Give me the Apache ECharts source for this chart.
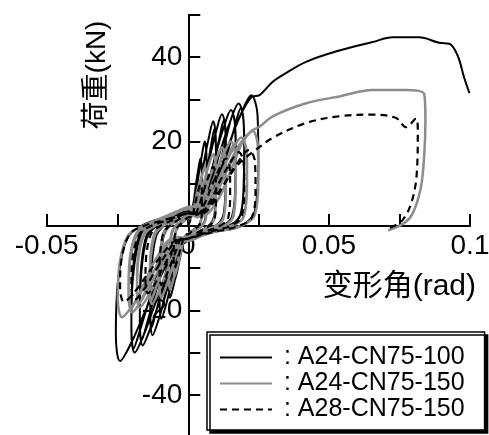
<!DOCTYPE html>
<html>
<head>
<meta charset="utf-8">
<script src="https://cdn.jsdelivr.net/npm/echarts@6/dist/echarts.min.js"></script>
<style>
  html, body { margin: 0; padding: 0; background: #fff; }
  #chart { width: 489px; height: 435px; }
</style>
</head>
<body>
<div id="chart"></div>
<script>
/* --- series names (legend) --- */
const seriesNames = ['A24-CN75-100', 'A24-CN75-150', 'A28-CN75-150'];

/* --- A24-CN75-100 : cyclic loops, then the final push to 0.1 rad --- */
const loops100 = [
  [0, 0],
  [0.001, 2.6], [0.002, 5.4], [0.0029, 9.9], [0.0037, 13.4], [0.0045, 16], [0.00495, 13.6], [0.005, 8], [0.00475, 1.9], [0.00375, 0], [0.00175, -1], [0, -2],
  [-0.001, -2.6], [-0.002, -5.2], [-0.003, -8.3], [-0.0039, -11.2], [-0.0047, -13], [-0.005, -10.4], [-0.00485, -5.2], [-0.00425, -1.3], [-0.00325, 0], [-0.00165, 1], [0, 2],
  [0.0013, 3.2], [0.0027, 6.8], [0.0039, 12.4], [0.005, 16.8], [0.006, 20], [0.0066, 17], [0.0067, 10], [0.0064, 2.4], [0.005, 0], [0.0023, -1.2], [0, -2.5],
  [-0.0013, -3.4], [-0.0027, -6.8], [-0.004, -10.9], [-0.0052, -14.6], [-0.0063, -17], [-0.0067, -13.6], [-0.0065, -6.8], [-0.0057, -1.7], [-0.0044, 0], [-0.0022, 1.2], [0, 2.5],
  [0.002, 4], [0.004, 8.4], [0.0058, 15.4], [0.0074, 20.8], [0.009, 24.8], [0.0099, 21.1], [0.01, 12.4], [0.0095, 3], [0.0075, 0], [0.0035, -1.5], [0, -3],
  [-0.002, -4.4], [-0.004, -8.8], [-0.006, -14.1], [-0.0078, -18.9], [-0.0094, -22], [-0.01, -17.6], [-0.0097, -8.8], [-0.0085, -2.2], [-0.0065, 0], [-0.0033, 1.5], [0, 3],
  [0.0025, 2.8], [0.005, 6.9], [0.0068, 13.3], [0.0082, 18.9], [0.0094, 23], [0.01, 17.3], [0.0099, 8.1], [0.0092, 1.8], [0.0072, 0], [0.0035, -1.5], [0, -3],
  [-0.0025, -3.1], [-0.005, -7.2], [-0.0068, -12.3], [-0.0084, -17.2], [-0.0096, -20.5], [-0.01, -14.8], [-0.0097, -7.2], [-0.0086, -1.6], [-0.0066, 0], [-0.0033, 1.5], [0, 3],
  [0.0027, 4.2], [0.0054, 9], [0.0078, 16.4], [0.01, 22.3], [0.0121, 26.5], [0.0134, 22.5], [0.0135, 13.3], [0.0128, 3.2], [0.0101, 0], [0.0047, -1.5], [0, -3],
  [-0.0027, -5.2], [-0.0053, -10.4], [-0.008, -16.6], [-0.0104, -22.3], [-0.0125, -25.9], [-0.0133, -20.7], [-0.0129, -10.4], [-0.0113, -2.6], [-0.0086, 0], [-0.0044, 1.5], [0, 3],
  [0.0034, 3], [0.0068, 7.5], [0.0092, 14.5], [0.0111, 20.5], [0.0127, 25], [0.0135, 18.8], [0.0134, 8.8], [0.0124, 2], [0.0097, 0], [0.0047, -1.5], [0, -3],
  [-0.0033, -3.6], [-0.0067, -8.4], [-0.009, -14.4], [-0.0112, -20.2], [-0.0128, -24], [-0.0133, -17.3], [-0.0129, -8.4], [-0.0114, -1.9], [-0.0088, 0], [-0.0044, 1.5], [0, 3],
  [0.0034, 4.4], [0.0068, 9.4], [0.0099, 17], [0.0126, 23.1], [0.0153, 27.5], [0.0168, 23.4], [0.017, 13.8], [0.0162, 3.3], [0.0128, 0], [0.006, -1.5], [0, -3],
  [-0.0034, -5.7], [-0.0068, -11.3], [-0.0102, -18.1], [-0.0133, -24.3], [-0.016, -28.3], [-0.017, -22.6], [-0.0165, -11.3], [-0.0145, -2.8], [-0.011, 0], [-0.0056, 1.5], [0, 3],
  [0.0043, 3.2], [0.0085, 8], [0.0116, 15.4], [0.0139, 21.7], [0.016, 26.5], [0.017, 19.9], [0.0168, 9.3], [0.0156, 2.1], [0.0122, 0], [0.006, -1.5], [0, -3],
  [-0.0043, -4.1], [-0.0085, -9.5], [-0.0116, -16.2], [-0.0143, -22.7], [-0.0163, -27], [-0.017, -19.4], [-0.0165, -9.5], [-0.0146, -2.2], [-0.0112, 0], [-0.0056, 1.5], [0, 3],
  [0.004, 4.6], [0.008, 9.9], [0.0116, 18], [0.0148, 24.4], [0.018, 29], [0.0198, 24.7], [0.02, 14.5], [0.019, 3.5], [0.015, 0], [0.007, -1.5], [0, -3.5],
  [-0.004, -6], [-0.008, -12], [-0.012, -19.2], [-0.0156, -25.8], [-0.0188, -30], [-0.02, -24], [-0.0194, -12], [-0.017, -3], [-0.013, 0], [-0.0066, 2], [0, 3.5],
  [0.005, 3.4], [0.01, 8.4], [0.0136, 16.2], [0.0164, 23], [0.0188, 28], [0.02, 21], [0.0198, 9.8], [0.0184, 2.2], [0.0144, 0], [0.007, -1.5], [0, -3.5],
  [-0.005, -4.4], [-0.01, -10.2], [-0.0136, -17.4], [-0.0168, -24.4], [-0.0192, -29], [-0.02, -20.9], [-0.0194, -10.2], [-0.0172, -2.3], [-0.0132, 0], [-0.0066, 2], [0, 3.5],
  [0.005, 5], [0.01, 10.5], [0.0145, 19.2], [0.0185, 26], [0.0225, 31], [0.0247, 26.4], [0.025, 15.5], [0.0238, 3.7], [0.0188, 0], [0.0088, -1.5], [0, -3.5],
  [-0.0051, -6.4], [-0.0102, -12.8], [-0.0153, -20.5], [-0.0199, -27.5], [-0.024, -32], [-0.0255, -25.6], [-0.0247, -12.8], [-0.0217, -3.2], [-0.0166, 0], [-0.0084, 2], [0, 3.5]
];
const push100 = [
  [0.005, 5], [0.01, 10.5], [0.0145, 19.2], [0.0185, 26], [0.0225, 30.5], [0.0254, 31],
  [0.0301, 34.2], [0.0337, 35.8], [0.0419, 38.9], [0.0537, 41.6], [0.0655, 43.6], [0.0726, 44.7],
  [0.082, 44.7], [0.0891, 43.4], [0.0927, 43.2], [0.0956, 40.4], [0.098, 35], [0.0998, 31.5]
];

/* --- A24-CN75-150 --- */
const loops150 = [
  [0, 0],
  [0.001, 1.8], [0.002, 3.7], [0.0029, 6.8], [0.0037, 9.2], [0.0045, 11], [0.00495, 9.4], [0.005, 5.5], [0.00475, 1.3], [0.00375, 0], [0.00175, -1], [0, -2],
  [-0.001, -2.4], [-0.002, -4.8], [-0.003, -7.7], [-0.0039, -10.3], [-0.0047, -12], [-0.005, -9.6], [-0.00485, -4.8], [-0.00425, -1.2], [-0.00325, 0], [-0.00165, 1], [0, 2],
  [0.0013, 2.2], [0.0027, 4.8], [0.0039, 8.7], [0.005, 11.8], [0.006, 14], [0.0066, 11.9], [0.0067, 7], [0.0064, 1.7], [0.005, 0], [0.0023, -1.2], [0, -2.5],
  [-0.0013, -3], [-0.0027, -6], [-0.004, -9.6], [-0.0052, -12.9], [-0.0063, -15], [-0.0067, -12], [-0.0065, -6], [-0.0057, -1.5], [-0.0044, 0], [-0.0022, 1.2], [0, 2.5],
  [0.002, 2.7], [0.004, 5.8], [0.0058, 10.5], [0.0074, 14.3], [0.009, 17], [0.0099, 14.5], [0.01, 8.5], [0.0095, 2], [0.0075, 0], [0.0035, -1.5], [0, -3],
  [-0.002, -3.4], [-0.004, -6.8], [-0.006, -10.9], [-0.0078, -14.6], [-0.0094, -17], [-0.01, -13.6], [-0.0097, -6.8], [-0.0085, -1.7], [-0.0065, 0], [-0.0033, 1.5], [0, 3],
  [0.0027, 3], [0.0054, 6.3], [0.0078, 11.5], [0.01, 15.6], [0.0121, 18.6], [0.0134, 15.8], [0.0135, 9.3], [0.0128, 2.2], [0.0101, 0], [0.0047, -1.5], [0, -3],
  [-0.0027, -3.7], [-0.0054, -7.4], [-0.0081, -11.8], [-0.0105, -15.9], [-0.0127, -18.5], [-0.0135, -14.8], [-0.0131, -7.4], [-0.0115, -1.9], [-0.0088, 0], [-0.0045, 1.5], [0, 3],
  [0.0034, 2.1], [0.0068, 5.3], [0.0092, 10.2], [0.0111, 14.4], [0.0127, 17.5], [0.0135, 13.1], [0.0134, 6.1], [0.0124, 1.4], [0.0097, 0], [0.0047, -1.5], [0, -3],
  [-0.0034, -2.6], [-0.0068, -6.1], [-0.0092, -10.5], [-0.0113, -14.7], [-0.013, -17.5], [-0.0135, -12.6], [-0.0131, -6.1], [-0.0116, -1.4], [-0.0089, 0], [-0.0045, 1.5], [0, 3],
  [0.0034, 3.2], [0.0068, 6.8], [0.0099, 12.4], [0.0126, 16.8], [0.0153, 20], [0.0168, 17], [0.017, 10], [0.0162, 2.4], [0.0128, 0], [0.006, -1.5], [0, -3],
  [-0.0036, -3.9], [-0.0072, -7.7], [-0.0108, -12.4], [-0.014, -16.6], [-0.0171, -19.3], [-0.018, -15.4], [-0.0175, -7.7], [-0.0153, -1.9], [-0.0117, 0], [-0.0059, 1.5], [0, 3],
  [0.0043, 2.3], [0.0085, 5.7], [0.0116, 11], [0.0139, 15.6], [0.016, 19], [0.017, 14.3], [0.0168, 6.7], [0.0156, 1.5], [0.0122, 0], [0.006, -1.5], [0, -3],
  [-0.0045, -2.8], [-0.009, -6.5], [-0.0122, -11.1], [-0.0151, -15.5], [-0.0173, -18.5], [-0.018, -13.3], [-0.0175, -6.5], [-0.0155, -1.5], [-0.0119, 0], [-0.0059, 1.5], [0, 3],
  [0.0042, 3.4], [0.0084, 7.1], [0.0122, 13], [0.0155, 17.6], [0.0189, 21], [0.0208, 17.9], [0.021, 10.5], [0.02, 2.5], [0.0158, 0], [0.0074, -1.5], [0, -3.5],
  [-0.0042, -4.1], [-0.0084, -8.2], [-0.0126, -13.1], [-0.0164, -17.6], [-0.0197, -20.5], [-0.021, -16.4], [-0.0204, -8.2], [-0.0179, -2], [-0.0137, 0], [-0.0069, 2], [0, 4],
  [0.0053, 2.4], [0.0105, 6], [0.0143, 11.6], [0.0172, 16.4], [0.0197, 20], [0.021, 15], [0.0208, 7], [0.0193, 1.6], [0.0151, 0], [0.0074, -1.5], [0, -3.5],
  [-0.0053, -3], [-0.0105, -6.9], [-0.0143, -11.9], [-0.0176, -16.6], [-0.0202, -19.8], [-0.021, -14.3], [-0.0204, -6.9], [-0.0181, -1.6], [-0.0139, 0], [-0.0069, 2], [0, 4],
  [0.005, 3.6], [0.01, 7.7], [0.0145, 14], [0.0185, 18.9], [0.023, 22.5], [0.0248, 19.1], [0.025, 11.3], [0.0238, 2.7], [0.0188, 0], [0.0088, -1.5], [0, -3.5],
  [-0.005, -4.3], [-0.0099, -8.6], [-0.0149, -13.8], [-0.0193, -18.6], [-0.0233, -21.6], [-0.0248, -17.3], [-0.0241, -8.6], [-0.0211, -2.2], [-0.0161, 0], [-0.0082, 2.2], [0, 4.5]
];
const push150 = [
  [0.005, 5], [0.01, 8.5], [0.0145, 14.5], [0.0185, 19.5], [0.0225, 22.5], [0.0254, 23.5],
  [0.0301, 26], [0.0419, 29.1], [0.0537, 30.7], [0.0655, 32.2], [0.0773, 32.2], [0.0838, 31.2],
  [0.0842, 25], [0.0838, 17], [0.0826, 9.2], [0.0797, 3], [0.0765, 0.6], [0.071, -1]
];

/* --- A28-CN75-150 --- */
const loops28 = [
  [0, 0],
  [0.001, 1.6], [0.002, 3.4], [0.0029, 6.2], [0.0037, 8.4], [0.0045, 10], [0.00495, 8.5], [0.005, 5], [0.00475, 1.2], [0.00375, 0], [0.00175, -1], [0, -2],
  [-0.001, -2], [-0.002, -4], [-0.003, -6.4], [-0.0039, -8.6], [-0.0047, -10], [-0.005, -8], [-0.00485, -4], [-0.00425, -1], [-0.00325, 0], [-0.00165, 1], [0, 2],
  [0.002, 2.2], [0.004, 4.8], [0.0058, 8.7], [0.0074, 11.8], [0.009, 14], [0.0099, 11.9], [0.01, 7], [0.0095, 1.7], [0.0075, 0], [0.0035, -1.5], [0, -3],
  [-0.002, -2.8], [-0.004, -5.6], [-0.006, -9], [-0.0078, -12], [-0.0094, -14], [-0.01, -11.2], [-0.0097, -5.6], [-0.0085, -1.4], [-0.0065, 0], [-0.0033, 1.5], [0, 3],
  [0.003, 2.6], [0.006, 5.4], [0.0087, 9.9], [0.0111, 13.4], [0.0135, 16], [0.0149, 13.6], [0.015, 8], [0.0143, 1.9], [0.0113, 0], [0.0053, -1.5], [0, -3],
  [-0.003, -3.2], [-0.006, -6.4], [-0.009, -10.2], [-0.0117, -13.8], [-0.0141, -16], [-0.015, -12.8], [-0.0146, -6.4], [-0.0128, -1.6], [-0.0098, 0], [-0.005, 1.5], [0, 3],
  [0.004, 2.8], [0.008, 6], [0.0116, 10.9], [0.0148, 14.7], [0.018, 17.5], [0.0198, 14.9], [0.02, 8.8], [0.019, 2.1], [0.015, 0], [0.007, -1.5], [0, -3],
  [-0.004, -3.5], [-0.008, -7], [-0.012, -11.2], [-0.0156, -15.1], [-0.0188, -17.5], [-0.02, -14], [-0.0194, -7], [-0.017, -1.8], [-0.013, 0], [-0.0066, 1.5], [0, 3],
  [0.0048, 2.9], [0.0096, 6.1], [0.0139, 11.2], [0.0178, 15.1], [0.0216, 18], [0.0238, 15.3], [0.024, 9], [0.0228, 2.2], [0.018, 0], [0.0084, -1.5], [0, -3],
  [-0.0048, -3.6], [-0.0096, -7.2], [-0.0144, -11.5], [-0.0187, -15.5], [-0.0226, -18], [-0.024, -14.4], [-0.0233, -7.2], [-0.0204, -1.8], [-0.0156, 0], [-0.0079, 1.5], [0, 3]
];
const push28 = [
  [0.006, 4], [0.012, 9], [0.017, 14], [0.021, 16.5], [0.0236, 17.8],
  [0.0301, 20.9], [0.0419, 24.4], [0.0537, 26], [0.0655, 26.4], [0.0738, 25.6], [0.0773, 23.4],
  [0.0809, 25.5], [0.0815, 22.5], [0.0812, 13.1], [0.0795, 6.1], [0.0761, 1.4], [0.0714, -0.5]
];

/* --- axis ticks --- */
const xShownLabels = [-0.05, 0, 0.05, 0.1];
const yShownLabels = [-40, -20, 20, 40];

const FONT = '"Liberation Sans", "Noto Sans CJK SC", sans-serif';

const chart = echarts.init(document.getElementById('chart'), null, { renderer: 'canvas' });

const isShown = (list, v) => list.some(s => Math.abs(s - v) < 1e-9);

// axes cross at the origin: grid spans x -0.05..0.1 and y -50..50,
// so the x axis sits 211px above the grid bottom and the y axis 141.6px right of grid left
const option = {
  animation: false,
  backgroundColor: '#fff',
  grid: { left: 46.7, top: 15, width: 423.3, height: 422, outerBoundsMode: 'none' },
  xAxis: {
    type: 'value',
    position: 'bottom',
    offset: -211,
    min: -0.05, max: 0.1, interval: 0.025,
    name: '变形角(rad)',
    nameLocation: 'end',
    nameGap: 6,
    nameTextStyle: { fontFamily: FONT, fontSize: 30, color: '#000', align: 'right', verticalAlign: 'top', padding: [46, 0, 0, 0] },
    axisLine: { onZero: false, lineStyle: { color: '#000', width: 2 } },
    axisTick: { inside: true, length: 12, lineStyle: { color: '#000', width: 2 } },
    axisLabel: {
      fontFamily: FONT, fontSize: 28, color: '#000', margin: 6,
      formatter: v => isShown(xShownLabels, v) ? String(Math.round(v * 1000) / 1000) : ''
    },
    splitLine: { show: false }
  },
  yAxis: {
    type: 'value',
    position: 'left',
    offset: -141.6,
    min: -50, max: 50, interval: 10,
    axisLine: { onZero: false, lineStyle: { color: '#000', width: 2 } },
    axisTick: { inside: true, length: 12, lineStyle: { color: '#000', width: 2 } },
    axisLabel: {
      fontFamily: FONT, fontSize: 28, color: '#000', margin: 6,
      formatter: v => isShown(yShownLabels, v) ? String(v) : ''
    },
    splitLine: { show: false }
  },
  legend: {
    orient: 'vertical',
    left: 207, top: 332,
    padding: [13, 20, 8, 12],
    itemGap: 1,
    itemWidth: 52, itemHeight: 14,
    backgroundColor: '#fff',
    borderColor: '#000', borderWidth: 1.5,
    shadowColor: '#000', shadowBlur: 0, shadowOffsetX: 3, shadowOffsetY: 3,
    itemStyle: { opacity: 0 },
    formatter: name => ' : ' + name,
    textStyle: { fontFamily: FONT, fontSize: 25, color: '#000' },
    data: seriesNames
  },
  graphic: [{
    type: 'text',
    x: 97, y: 75,
    rotation: Math.PI / 2,
    style: {
      text: '荷重(kN)',
      font: '28px ' + FONT,
      fill: '#000',
      align: 'center',
      verticalAlign: 'middle'
    }
  }],
  series: [
    {
      name: seriesNames[0], type: 'line', showSymbol: false, symbol: 'none', smooth: 0.35,
      lineStyle: { color: '#000', width: 2 }, itemStyle: { color: '#000' },
      data: loops100.concat(push100), z: 2
    },
    {
      name: seriesNames[1], type: 'line', showSymbol: false, symbol: 'none', smooth: 0.35,
      lineStyle: { color: '#8c8c8c', width: 2.5 }, itemStyle: { color: '#8c8c8c' },
      data: loops150.concat(push150), z: 3
    },
    {
      name: seriesNames[2], type: 'line', showSymbol: false, symbol: 'none', smooth: 0.35,
      lineStyle: { color: '#000', width: 2.2, type: [7, 5] }, itemStyle: { color: '#000' },
      data: loops28.concat(push28), z: 4
    }
  ]
};

chart.setOption(option);
</script>
</body>
</html>
